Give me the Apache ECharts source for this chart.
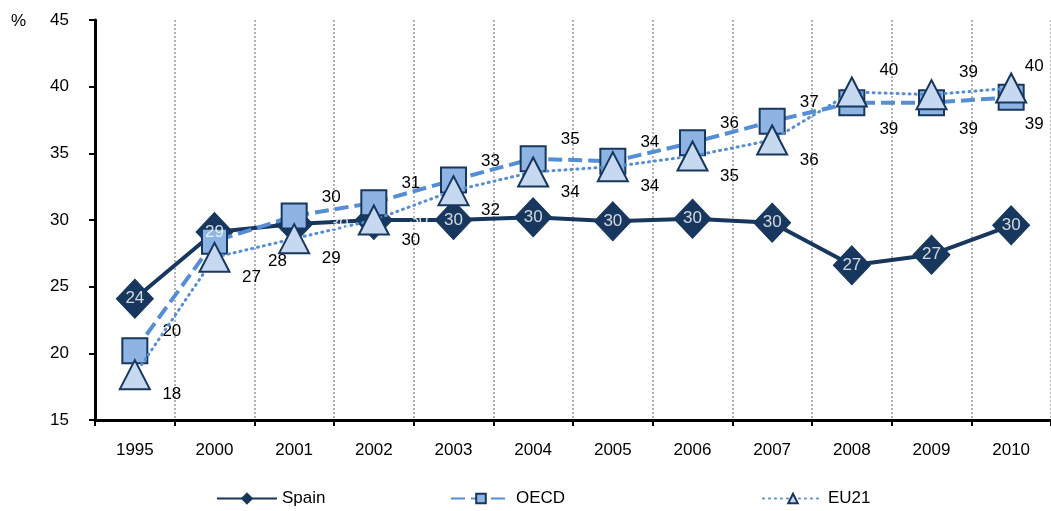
<!DOCTYPE html>
<html>
<head>
<meta charset="utf-8">
<script src="https://cdn.jsdelivr.net/npm/echarts@6/dist/echarts.min.js"></script>
<style>
  html, body { margin: 0; padding: 0; background: #fff; }
  #chart { width: 1051px; height: 511px; }
</style>
</head>
<body>
<div id="chart"></div>
<script>
const categories = ['1995', '2000', '2001', '2002', '2003', '2004', '2005', '2006', '2007', '2008', '2009', '2010']
const spain = [24.1, 29.1, 29.7, 30.0, 30.0, 30.2, 29.9, 30.1, 29.8, 26.6, 27.4, 29.6]
const oecd = [20.2, 28.4, 30.3, 31.3, 33.0, 34.6, 34.4, 35.8, 37.4, 38.8, 38.8, 39.2]
const eu21 = [18.4, 27.2, 28.6, 30.0, 32.2, 33.6, 34.0, 34.8, 36.0, 39.6, 39.4, 39.9]
const yTicks = { min: 15, max: 45, step: 5 }

const NAVY = '#17375E'
const MID = '#558ED5'
const font = 'Liberation Sans, Arial, sans-serif'
const FS = 17

// label placement (style only)
function labelFor (i, kind) {
  let offset
  if (kind === 'spain') {
    offset = (i === 2 || i === 3) ? [45, 0] : [0, 0]
  } else if (kind === 'oecd') {
    if (i === 1) offset = [63, 20]
    else if (i >= 9) offset = [i === 11 ? 23 : 37, 27]
    else offset = [37, -19]
  } else {
    if (i >= 9) offset = [i === 11 ? 23 : 37, -22]
    else offset = [37, 20]
  }
  return { offset }
}

function build (values, kind) {
  return values.map((v, i) => ({ value: v, label: labelFor(i, kind) }))
}

const numLabel = color => ({
  show: true,
  position: 'inside',
  color,
  fontSize: FS,
  formatter: p => Math.round(p.value)
})

const chart = echarts.init(document.getElementById('chart'))
chart.setOption({
  animation: false,
  textStyle: { fontFamily: font },
  grid: { left: 95, top: 20, width: 960, height: 400 },
  title: {
    text: '%',
    left: 6,
    top: 8,
    textStyle: { fontSize: FS, fontWeight: 'normal', color: '#000', fontFamily: font }
  },
  legend: [
    { name: 'Spain', left: 211 },
    { name: 'OECD', left: 445 },
    { name: 'EU21', left: 757 }
  ].map(l => ({
    data: [l.name],
    left: l.left,
    top: 485,
    itemWidth: 60,
    itemHeight: 12,
    itemGap: 6,
    textStyle: { fontSize: FS, color: '#000', fontFamily: font },
    lineStyle: { width: 2 }
  })),
  xAxis: {
    type: 'category',
    data: categories,
    boundaryGap: true,
    axisLine: { lineStyle: { color: '#000', width: 3 } },
    axisTick: { show: true, length: 6, lineStyle: { color: '#000', width: 2 } },
    axisLabel: { color: '#000', fontSize: FS, margin: 22, fontFamily: font },
    splitLine: { show: true, lineStyle: { color: '#999', width: 1.5, type: [2, 2] } }
  },
  yAxis: {
    type: 'value',
    min: yTicks.min,
    max: yTicks.max,
    interval: yTicks.step,
    axisLine: { show: true, lineStyle: { color: '#000', width: 3 } },
    axisTick: { show: true, length: 6, lineStyle: { color: '#000', width: 2 } },
    axisLabel: { color: '#000', fontSize: FS, margin: 26, fontFamily: font },
    splitLine: { show: false }
  },
  series: [
    {
      name: 'Spain',
      type: 'line',
      data: spain,
      symbol: 'diamond',
      symbolSize: [37, 39],
      z: 2,
      lineStyle: { color: NAVY, width: 4 },
      itemStyle: { color: NAVY, borderColor: NAVY, borderWidth: 1 }
    },
    {
      name: 'OECD',
      type: 'line',
      data: build(oecd, 'oecd'),
      symbol: 'rect',
      symbolSize: 25,
      z: 3,
      lineStyle: { color: MID, width: 4, type: [14, 6] },
      itemStyle: { color: '#8EB4E3', borderColor: NAVY, borderWidth: 2 },
      label: numLabel('#000')
    },
    {
      name: 'EU21',
      type: 'line',
      data: build(eu21, 'eu21'),
      symbol: 'triangle',
      symbolSize: [30, 29],
      z: 4,
      lineStyle: { color: MID, width: 3, type: [1, 5], cap: 'round' },
      itemStyle: { color: '#C6D9F1', borderColor: NAVY, borderWidth: 2 },
      label: numLabel('#000')
    },
    {
      // Spain value labels, kept above the other series' markers
      name: 'Spain labels',
      type: 'scatter',
      data: build(spain, 'spain'),
      symbolSize: 0,
      silent: true,
      z: 6,
      label: numLabel('#fff')
    }
  ]
})
</script>
</body>
</html>
